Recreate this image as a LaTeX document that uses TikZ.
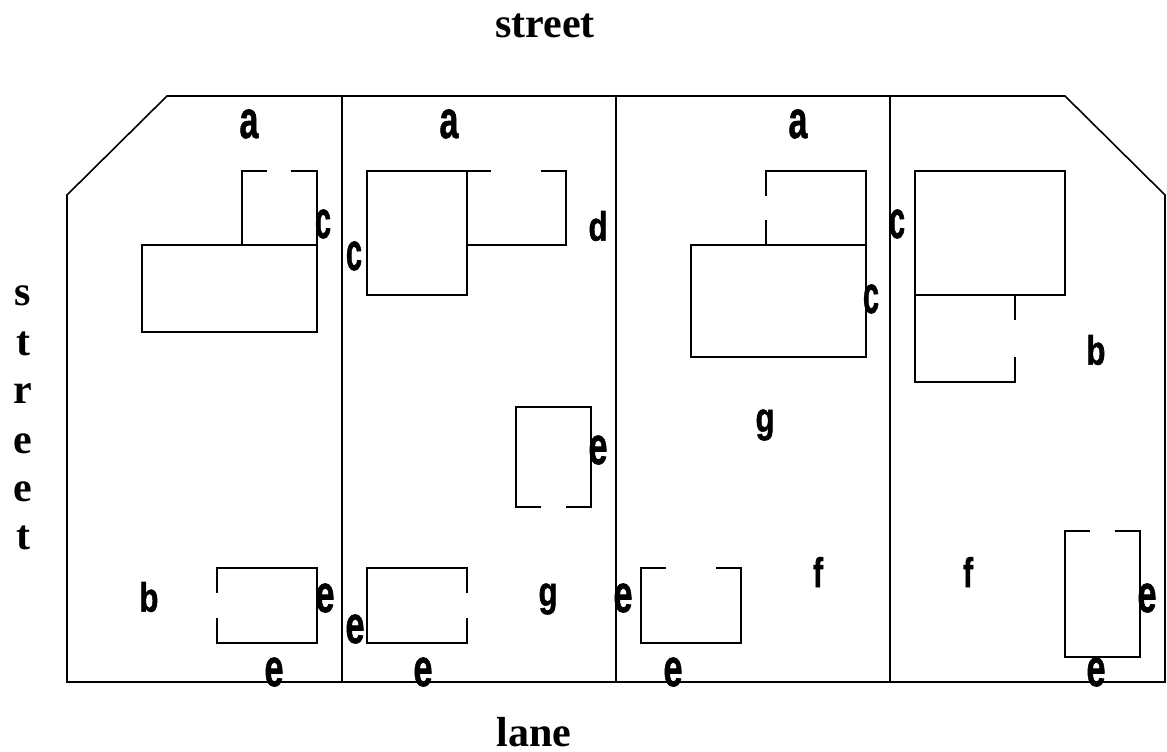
\documentclass[tikz,border=0pt]{standalone}
\usepackage{graphicx}
\usepackage{fontspec}
\setmainfont{Liberation Serif}
\newfontfamily\lotfont[BoldFeatures={FakeBold=1.4}]{Liberation Sans}
\newcommand{\lotmark}[3]{\resizebox*{#1pt}{#2pt}{\lotfont\bfseries #3}}
\tikzset{
  wall/.style={draw=black,line width=1.6pt,line cap=butt,line join=miter},
  tick/.style={draw=black,line width=2.6pt},
  lot/.style={inner sep=0pt,outer sep=0pt},
  road/.style={inner sep=0pt,outer sep=0pt,font=\fontsize{42}{42}\selectfont\bfseries}
}
\begin{document}
\begin{tikzpicture}[x=1pt,y=-1pt]
\useasboundingbox (0,0) rectangle (1167,752);
% boundary and party walls
\draw[wall] (67,195) -- (167,96) -- (1065,96) -- (1165,195) -- (1165,682) -- (67,682) -- cycle;
\draw[wall] (342,96) -- (342,682);
\draw[wall] (616,96) -- (616,682);
\draw[wall] (890,96) -- (890,682);
\draw[tick] (67,582) -- (67,595);
\draw[tick] (890,582) -- (890,595);
\draw[tick] (1165,582) -- (1165,595);
\draw[tick] (616,632) -- (616,657);
% lot 1
\draw[wall] (142,245) rectangle (317,332);
\draw[tick] (142,307) -- (142,320);
\draw[wall] (267,171) -- (242,171) -- (242,245);
\draw[wall] (291,171) -- (317,171) -- (317,245);
\draw[wall] (217,593) -- (217,568) -- (317,568) -- (317,643) -- (217,643) -- (217,618);
% lot 2
\draw[wall] (367,171) rectangle (467,295);
\draw[wall] (467,171) -- (491,171);
\draw[wall] (541,171) -- (566,171) -- (566,245) -- (467,245);
\draw[wall] (541,507) -- (516,507) -- (516,407) -- (591,407) -- (591,507) -- (566,507);
\draw[wall] (467,593) -- (467,568) -- (367,568) -- (367,643) -- (467,643) -- (467,618);
% lot 3
\draw[wall] (691,245) rectangle (866,357);
\draw[wall] (766,245) -- (766,220);
\draw[wall] (766,196) -- (766,171) -- (866,171) -- (866,245);
\draw[wall] (666,568) -- (641,568) -- (641,643) -- (741,643) -- (741,568) -- (716,568);
% lot 4
\draw[wall] (915,171) rectangle (1065,295);
\draw[wall] (1015,295) -- (1015,320);
\draw[wall] (1015,357) -- (1015,382) -- (915,382) -- (915,295);
\draw[wall] (1090,531) -- (1065,531) -- (1065,657) -- (1140,657) -- (1140,531) -- (1115,531);
% lot marks
\node[lot] (a1) at (249,124) {\lotmark{19}{29}{a}};
\node[lot] (a2) at (449,124) {\lotmark{19}{29}{a}};
\node[lot] (a3) at (798,124) {\lotmark{19}{29}{a}};
\node[lot] (c1) at (323,224) {\lotmark{16}{29}{c}};
\node[lot] (c2) at (354,256) {\lotmark{16}{29}{c}};
\node[lot] (c3) at (897,224) {\lotmark{16}{29}{c}};
\node[lot] (c4) at (871,299) {\lotmark{16}{29}{c}};
\node[lot] (d1) at (598,226) {\lotmark{19}{30}{d}};
\node[lot] (b1) at (1096,350) {\lotmark{19}{30}{b}};
\node[lot] (b2) at (149,597) {\lotmark{19}{30}{b}};
\node[lot] (g1) at (765,425) {\lotmark{19}{31}{g}};
\node[lot] (g2) at (548,599) {\lotmark{19}{31}{g}};
\node[lot] (f1) at (818,572) {\lotmark{10}{30}{f}};
\node[lot] (f2) at (968,572) {\lotmark{10}{30}{f}};
\node[lot] (e1) at (598,450) {\lotmark{19}{29}{e}};
\node[lot] (e2) at (325,598) {\lotmark{19}{29}{e}};
\node[lot] (e3) at (355,629) {\lotmark{19}{29}{e}};
\node[lot] (e4) at (623,598) {\lotmark{19}{29}{e}};
\node[lot] (e5) at (1147,598) {\lotmark{19}{29}{e}};
\node[lot] (e6) at (274,672) {\lotmark{19}{29}{e}};
\node[lot] (e7) at (423,672) {\lotmark{19}{29}{e}};
\node[lot] (e8) at (673,672) {\lotmark{19}{29}{e}};
\node[lot] (e9) at (1096,672) {\lotmark{19}{29}{e}};
% roads
\node[road] (streettop) at (545,26) {street};
\node[road] (lane) at (534,732) {lane};
\node[road] (s1) at (23,296) {s};
\node[road] (s2) at (23,344) {t};
\node[road] (s3) at (23,394) {r};
\node[road] (s4) at (23,444) {e};
\node[road] (s5) at (23,492) {e};
\node[road] (s6) at (23,538) {t};
\end{tikzpicture}
\end{document}
